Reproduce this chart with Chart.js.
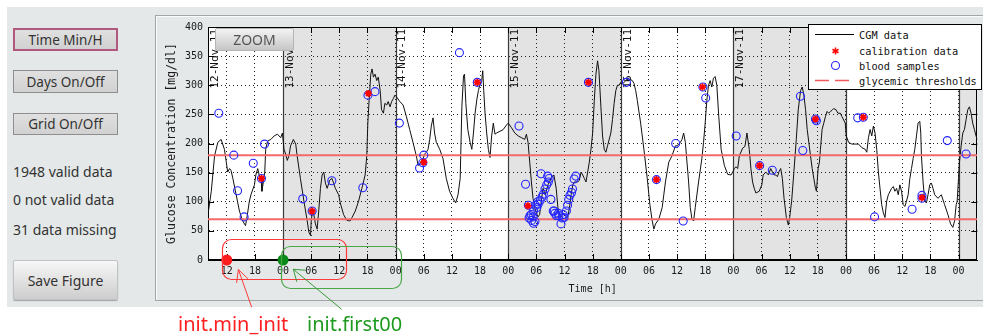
<!DOCTYPE html>
<html lang="en">
<head>
<meta charset="utf-8">
<title>CGM data</title>
<script src="https://cdn.jsdelivr.net/npm/chart.js@4.4.1/dist/chart.umd.min.js"></script>
<style>
  html, body { margin:0; padding:0; width:983px; height:336px; overflow:hidden; background:#fff; }
  body { position:relative; font-family:"Noto Sans", "Open Sans", sans-serif; color:#333; }
  #figure { position:absolute; left:7px; top:7px; width:976px; height:300px; background:#e4e8e8; }
  #panel { position:absolute; left:155px; top:15px; width:840px; height:286px; box-sizing:border-box;
           border-top:1px solid #a2a6a6; border-left:1px solid #a2a6a6; border-bottom:1px solid #a2a6a6;
           box-shadow: inset 1px 1px 0 #fbfbfb; }
  #chart { position:absolute; left:156px; top:16px; }
  .btn { position:absolute; box-sizing:border-box; display:flex; align-items:center; justify-content:center;
         font-size:13.5px; color:#333; white-space:nowrap; }
  .toggle { left:13px; width:105px; height:23px; background:linear-gradient(#e0e0e0,#d1d1d1); border:1px solid #8e8e8e; }
  #btnTime { top:28px; border:2px solid #b0587e; }
  #btnDays { top:70px; }
  #btnGrid { top:113px; height:22px; }
  #btnSave { left:13px; top:260px; width:105px; height:40px; background:linear-gradient(#f7f7f7,#cdcdcd);
             border:1px solid #c2c2c2; border-radius:2px; box-shadow:0 1px 1px rgba(0,0,0,.3); font-size:14px; }
  #btnZoom { left:215px; top:28px; width:79px; height:23px; background:linear-gradient(#f3f3f3,#c6c6c6);
             border:1px solid #b4b4b4; border-radius:2px; color:#555; font-size:14px; }
  .info { position:absolute; left:13px; font-size:14px; color:#333; line-height:18px; white-space:nowrap; }
  svg.overlay { position:absolute; pointer-events:none; }
  .mono { font-family:"DejaVu Sans Mono", monospace; }
</style>
</head>
<body>
<div id="figure"></div>
<div id="panel"></div>
<canvas id="chart" width="827" height="285"></canvas>

<div class="btn toggle" id="btnTime">Time Min/H</div>
<div class="btn toggle" id="btnDays">Days On/Off</div>
<div class="btn toggle" id="btnGrid">Grid On/Off</div>
<div class="info" style="top:163px">1948 valid data</div>
<div class="info" style="top:191px">0 not valid data</div>
<div class="info" style="top:221px">31 data missing</div>
<div class="btn" id="btnSave">Save Figure</div>
<div class="btn" id="btnZoom">ZOOM</div>

<svg class="overlay" id="legend" width="174" height="66" style="left:808px;top:24px">
  <rect x="0.5" y="0.5" width="173" height="65" fill="#fff" stroke="#000"/>
  <line x1="7" y1="10.5" x2="46" y2="10.5" stroke="#000"/>
  <g stroke="#ff0000" stroke-width="1.6">
    <line x1="27.5" y1="23.5" x2="27.5" y2="30.5"/>
    <line x1="24.5" y1="25.3" x2="30.5" y2="28.7"/>
    <line x1="24.5" y1="28.7" x2="30.5" y2="25.3"/>
  </g>
  <circle cx="27.5" cy="41.5" r="4" fill="none" stroke="#2424ff" stroke-width="1.1"/>
  <line x1="7" y1="56.5" x2="46" y2="56.5" stroke="#f05a5a" stroke-width="1.4" stroke-dasharray="14 6"/>
  <g class="mono" font-size="10.3" fill="#111" dominant-baseline="central">
    <text x="51" y="11">CGM data</text>
    <text x="51" y="27">calibration data</text>
    <text x="51" y="42">blood samples</text>
    <text x="51" y="57">glycemic thresholds</text>
  </g>
</svg>

<svg class="overlay" id="notes" width="983" height="336" style="left:0;top:0">
  <rect x="222.5" y="239.5" width="124" height="40" rx="9" fill="none" stroke="#ff3a3a" stroke-width="1.2"/>
  <rect x="281.5" y="246.5" width="120" height="42" rx="9" fill="none" stroke="#4aa84a" stroke-width="1.2"/>
  <path d="M251.7 307.3 L238.4 269.5 M248 278.8 L238.4 269.5 L236.6 282.9" stroke="#ff3a3a" fill="none"/>
  <path d="M341.7 309.3 L293.3 269.3 M306.3 270.3 L293.3 269.3 L296.8 281.8" stroke="#3a9a3a" fill="none"/>
  <text x="178" y="331" fill="#ff2020" font-size="20" font-family="Noto Sans">init.min_init</text>
  <text x="307" y="331" fill="#1e9a1e" font-size="20" font-family="Noto Sans">init.first00</text>
</svg>

<script>
// Time axis: hours relative to 13-Nov-2011 00:00
const hourMin = -16;
const hourMax = 148;
const hourTicks = [-12, -6, 0, 6, 12, 18, 24, 30, 36, 42, 48, 54, 60, 66, 72, 78, 84, 90,
                   96, 102, 108, 114, 120, 126, 132, 138, 144];
const glucoseTicks = [0, 50, 100, 150, 200, 250, 300, 350, 400];
const dayLabels = ['12-Nov-11', '13-Nov-11', '14-Nov-11', '15-Nov-11',
                   '16-Nov-11', '17-Nov-11', '18-Nov-11', '19-Nov-11'];
const dayStarts = [-24, 0, 24, 48, 72, 96, 120, 144];
const thresholds = [70, 180];          // hypo / hyper limits, mg/dl
const initHours = [-12, 0];            // init.min_init, init.first00

// CGM trace: [hour, mg/dl]
const cgmReadings = [
  [-15.9, 84], [-15.3, 118], [-14.6, 179], [-13.9, 202], [-13.2, 207], [-12.5, 190], [-12.1, 168],
  [-11.8, 151], [-11.4, 157], [-11.1, 154], [-10.7, 140], [-10.0, 112], [-9.3, 84], [-8.6, 67],
  [-8.0, 59], [-7.6, 78], [-7.2, 100], [-6.85, 112], [-6.1, 129], [-5.8, 146], [-5.4, 157],
  [-5.1, 146], [-4.7, 140], [-4.5, 118], [-4.2, 134], [-3.9, 151], [-3.7, 190], [-3.3, 204],
  [-2.6, 207], [-1.9, 213], [-1.2, 216], [-0.5, 210], [-0.14, 218], [0.2, 190], [0.56, 182],
  [0.9, 171], [1.27, 179], [1.6, 196], [2.2, 207], [2.7, 199], [3.0, 179], [3.7, 140],
  [4.45, 101], [5.15, 67], [5.5, 48], [5.86, 42], [6.0, 67], [6.28, 84], [6.56, 78],
  [6.9, 62], [7.27, 53], [7.6, 84], [7.97, 123], [8.33, 146], [8.68, 151], [9.03, 132],
  [9.4, 123], [9.95, 137], [10.44, 140], [11.15, 123], [11.86, 112], [12.2, 98], [12.9, 78],
  [13.6, 68], [14.3, 67], [14.7, 73], [15.4, 84], [16.1, 101], [16.8, 123], [17.5, 146],
  [17.85, 179], [18.07, 235], [18.35, 275], [18.7, 319], [18.98, 328], [19.27, 314], [19.62, 319],
  [19.97, 308], [20.3, 314], [20.7, 291], [21.0, 258], [21.4, 252], [21.7, 269], [22.1, 266],
  [22.4, 272], [22.8, 263], [23.15, 272], [23.5, 277], [23.85, 283], [24.2, 280], [24.9, 272],
  [25.6, 266], [26.3, 246], [27.0, 224], [27.7, 202], [28.4, 179], [28.8, 162], [29.15, 165],
  [29.85, 174], [30.2, 182], [30.56, 185], [30.9, 190], [31.26, 207], [31.6, 230], [31.97, 244],
  [32.3, 218], [32.67, 202], [33.4, 190], [34.1, 174], [34.8, 140], [35.5, 118], [36.2, 106],
  [36.8, 98], [37.3, 112], [37.76, 140], [38.12, 263], [38.47, 316], [38.68, 319], [38.97, 269],
  [39.39, 224], [39.88, 202], [40.24, 190], [40.59, 218], [40.94, 252], [41.3, 275], [41.65, 291],
  [42.0, 302], [42.35, 308], [42.57, 325], [42.78, 291], [43.06, 252], [43.41, 218], [43.77, 190],
  [44.12, 176], [44.47, 213], [44.82, 235], [45.18, 216], [45.53, 218], [46.24, 221], [46.94, 224],
  [47.65, 232], [48.0, 235], [48.71, 227], [49.41, 218], [50.12, 213], [50.82, 210], [51.53, 207],
  [51.88, 216], [52.23, 202], [52.59, 168], [52.94, 134], [53.29, 106], [53.65, 90], [54.0, 81],
  [54.35, 74], [54.7, 78], [55.06, 101], [55.41, 123], [55.9, 112], [56.47, 129], [57.17, 140],
  [57.74, 146], [58.23, 123], [58.59, 90], [58.94, 78], [59.43, 74], [60.0, 70], [60.7, 74],
  [61.06, 90], [61.41, 112], [61.76, 129], [62.11, 134], [62.82, 134], [63.17, 137], [63.53, 151],
  [63.88, 146], [64.23, 140], [64.58, 134], [64.94, 151], [65.29, 168], [65.64, 190], [66.0, 218],
  [66.35, 274], [66.7, 319], [67.05, 342], [67.34, 325], [67.76, 263], [68.11, 213], [68.47, 190],
  [68.82, 185], [69.17, 196], [69.88, 218], [70.23, 241], [70.58, 269], [70.94, 291], [71.29, 300],
  [71.64, 300], [72.0, 305], [72.35, 302], [73.05, 308], [73.76, 311], [74.46, 308], [74.82, 303],
  [75.17, 291], [75.52, 274], [76.23, 235], [76.93, 190], [77.64, 140], [78.2, 95], [78.7, 67],
  [79.05, 53], [79.4, 62], [80.11, 70], [80.82, 90], [81.52, 134], [82.23, 168], [82.93, 179],
  [83.64, 196], [83.99, 196], [84.7, 202], [85.05, 207], [85.4, 218], [85.76, 202], [86.11, 168],
  [86.46, 134], [86.81, 90], [87.17, 70], [87.52, 67], [87.87, 90], [88.58, 134], [89.28, 174],
  [89.64, 202], [89.99, 235], [90.34, 274], [90.7, 300], [91.05, 308], [91.4, 297], [91.75, 312],
  [92.11, 315], [92.47, 300], [92.89, 246], [93.39, 190], [94.09, 162], [94.8, 147], [95.51, 146],
  [95.86, 151], [96.21, 157], [96.56, 160], [96.92, 157], [97.27, 179], [97.98, 192], [98.47, 195],
  [98.89, 218], [99.39, 190], [99.74, 157], [100.09, 134], [100.45, 123], [100.8, 115], [101.5, 118],
  [102.07, 129], [102.35, 146], [102.92, 151], [103.48, 146], [103.97, 157], [104.33, 151], [104.68, 146],
  [105.03, 146], [105.39, 143], [105.74, 152], [106.09, 157], [106.44, 140], [106.8, 106], [107.29, 73],
  [107.72, 60], [108.0, 73], [108.42, 101], [108.91, 152], [109.41, 207], [109.83, 258], [110.33, 291],
  [110.68, 297], [111.03, 283], [111.39, 258], [111.74, 224], [112.44, 179], [112.8, 157], [113.15, 140],
  [113.5, 123], [113.71, 118], [114.07, 157], [114.35, 168], [114.56, 190], [114.91, 224], [115.27, 235],
  [115.62, 246], [115.97, 255], [116.32, 252], [116.68, 255], [117.03, 257], [117.38, 260], [117.88, 258],
  [118.3, 252], [118.8, 252], [119.15, 246], [119.85, 235], [120.07, 213], [120.56, 202], [121.26, 199],
  [121.97, 199], [122.68, 199], [123.38, 193], [124.09, 190], [124.44, 185], [124.79, 210], [125.15, 224],
  [125.5, 213], [125.85, 230], [126.2, 218], [126.56, 190], [126.91, 151], [127.26, 123], [127.62, 95],
  [127.97, 81], [128.32, 73], [128.68, 101], [129.03, 112], [129.73, 123], [130.09, 126], [130.44, 118],
  [130.79, 123], [131.14, 112], [131.5, 129], [131.85, 118], [132.2, 95], [132.56, 92], [132.91, 101],
  [133.26, 112], [133.62, 140], [133.97, 157], [134.32, 174], [134.67, 190], [135.03, 213], [135.38, 235],
  [135.74, 238], [135.95, 218], [136.09, 179], [136.44, 134], [136.8, 101], [137.15, 98], [137.5, 112],
  [137.86, 129], [138.21, 132], [138.56, 123], [138.91, 112], [139.62, 106], [140.33, 112], [141.03, 95],
  [141.74, 78], [142.3, 62], [142.79, 56], [143.15, 67], [143.5, 95], [143.71, 101], [143.99, 140],
  [144.2, 168], [144.56, 196], [144.91, 218], [145.26, 224], [145.61, 241], [145.97, 258], [146.32, 263],
  [146.67, 252], [147.02, 235], [147.38, 224], [147.73, 213], [148.0, 207]
];

// Blood glucose samples: [hour, mg/dl]
const bloodSamples = [
  [-13.7, 252], [-10.5, 180], [-9.7, 119], [-8.3, 74], [-6.35, 166], [-4.6, 140], [-3.95, 199],
  [4.2, 105], [6.2, 84], [10.4, 136], [17.0, 124], [18.1, 283], [19.6, 289], [24.8, 235],
  [29.1, 158], [29.8, 167], [30.0, 180], [37.6, 356], [41.4, 305], [50.3, 230],
  [51.7, 130], [52.3, 94], [52.45, 72], [52.65, 76], [52.9, 78], [53.0, 68], [53.3, 74],
  [53.4, 63], [53.4, 84], [53.7, 66], [53.8, 94], [54.1, 90], [54.3, 100], [54.4, 96],
  [54.8, 102], [55.0, 148], [55.2, 108], [55.5, 113], [55.85, 122], [56.2, 129], [56.4, 144],
  [56.55, 134], [56.75, 140], [57.1, 104], [57.6, 84], [57.8, 84], [57.95, 80], [58.3, 76],
  [58.7, 80], [58.8, 76], [59.25, 62], [59.5, 72], [59.7, 78], [59.9, 73], [60.4, 84],
  [60.65, 94], [60.9, 104], [61.15, 111], [61.5, 116], [61.7, 122], [62.05, 139], [62.4, 144],
  [65.1, 305], [73.2, 305], [79.6, 138], [83.7, 200], [85.3, 67], [89.5, 297], [90.1, 278],
  [96.6, 213], [101.6, 162], [104.3, 154], [110.3, 281], [110.8, 188], [113.5, 242], [113.7, 239],
  [122.5, 244], [123.7, 245], [126.1, 74], [134.1, 87], [136.2, 111], [136.2, 106], [141.6, 205],
  [145.6, 182]
];

// Calibration entries: [hour, mg/dl]
const calibrationPoints = [
  [-4.6, 140], [6.2, 84], [18.2, 286], [30.0, 168], [41.4, 305], [52.2, 93], [65.1, 305],
  [79.6, 138], [89.4, 297], [101.6, 162], [113.5, 242], [123.7, 245], [136.2, 107]
];

const mono = 'DejaVu Sans Mono';
const toXY = pairs => pairs.map(([x, y]) => ({ x, y }));
const hourLabel = v => String(((v % 24) + 24) % 24).padStart(2, '0');

// Day shading, day separators, date labels, inward ticks and axes box
const chartFrame = {
  id: 'chartFrame',
  beforeDraw(chart) {
    const { ctx, chartArea: a, scales: { x } } = chart;
    ctx.save();
    ctx.fillStyle = '#ffffff';
    ctx.fillRect(a.left, a.top, a.width, a.height);
    ctx.fillStyle = '#e3e3e3';
    dayStarts.forEach((h, i) => {
      if (i % 2 === 0) return;
      const x0 = Math.max(a.left, x.getPixelForValue(h));
      const x1 = Math.min(a.right, x.getPixelForValue(h + 24));
      if (x1 > x0) ctx.fillRect(x0, a.top, x1 - x0, a.height);
    });
    ctx.restore();
  },
  beforeDatasetsDraw(chart) {
    const { ctx, chartArea: a, scales: { x, y } } = chart;
    ctx.save();
    ctx.strokeStyle = '#3a3a3a';
    ctx.lineWidth = 1.2;
    dayStarts.forEach(h => {
      const px = x.getPixelForValue(h);
      if (px <= a.left || px >= a.right) return;
      const sx = Math.round(px) + 0.5;
      ctx.beginPath();
      ctx.moveTo(sx, a.top);
      ctx.lineTo(sx, a.bottom);
      ctx.stroke();
    });

    ctx.fillStyle = '#111';
    ctx.font = '11px "' + mono + '"';
    ctx.textAlign = 'right';
    ctx.textBaseline = 'middle';
    dayLabels.forEach((label, i) => {
      const px = Math.max(a.left, x.getPixelForValue(dayStarts[i])) + 7;
      if (px > a.right) return;
      ctx.save();
      ctx.translate(px, a.top + 2);
      ctx.rotate(-Math.PI / 2);
      ctx.fillText(label, 0, 0);
      ctx.restore();
    });

    ctx.strokeStyle = '#000';
    ctx.lineWidth = 1;
    ctx.beginPath();
    hourTicks.forEach(h => {
      const px = Math.round(x.getPixelForValue(h)) + 0.5;
      ctx.moveTo(px, a.bottom); ctx.lineTo(px, a.bottom - 6);
      ctx.moveTo(px, a.top); ctx.lineTo(px, a.top + 6);
    });
    glucoseTicks.forEach(v => {
      const py = Math.round(y.getPixelForValue(v)) + 0.5;
      ctx.moveTo(a.left, py); ctx.lineTo(a.left + 6, py);
      ctx.moveTo(a.right, py); ctx.lineTo(a.right - 6, py);
    });
    ctx.stroke();
    ctx.strokeRect(Math.round(a.left) + 0.5, Math.round(a.top) + 0.5,
                   Math.round(a.width) - 1, Math.round(a.height) - 1);
    ctx.restore();
  }
};

const gridStyle = { color: '#222', lineWidth: 1, drawTicks: false };
const borderStyle = { display: true, color: '#000', width: 1, dash: [1, 3] };

new Chart(document.getElementById('chart'), {
  type: 'line',
  data: {
    datasets: [
      {
        label: 'init',
        data: initHours.map(h => ({ x: h, y: 0 })),
        showLine: false,
        pointRadius: 5.5,
        pointBackgroundColor: ['#ff1c1c', '#0a8a16'],
        pointBorderWidth: 0,
        clip: false,
        order: -1
      },
      {
        label: 'calibration data',
        data: toXY(calibrationPoints),
        showLine: false,
        pointStyle: 'star',
        pointRadius: 3.5,
        pointBorderColor: '#ff0000',
        pointBackgroundColor: '#ff0000',
        pointBorderWidth: 1.7,
        order: 0
      },
      {
        label: 'blood samples',
        data: toXY(bloodSamples),
        showLine: false,
        pointStyle: 'circle',
        pointRadius: 4,
        pointBorderColor: '#2424ff',
        pointBackgroundColor: 'rgba(0,0,0,0)',
        pointBorderWidth: 1.1,
        order: 1
      },
      ...thresholds.map(t => ({
        label: 'glycemic thresholds',
        data: [{ x: hourMin, y: t }, { x: hourMax, y: t }],
        borderColor: '#f26a6a',
        borderWidth: 2,
        pointRadius: 0,
        order: 2
      })),
      {
        label: 'CGM data',
        data: toXY(cgmReadings),
        borderColor: '#111',
        borderWidth: 1,
        pointRadius: 0,
        order: 3
      }
    ]
  },
  options: {
    responsive: false,
    animation: false,
    events: [],
    layout: { padding: { left: 0, top: 6, right: 2, bottom: 0 } },
    plugins: { legend: { display: false }, tooltip: { enabled: false } },
    scales: {
      x: {
        type: 'linear',
        min: hourMin,
        max: hourMax,
        afterBuildTicks: s => { s.ticks = hourTicks.map(value => ({ value })); },
        afterFit: s => { s.height = 41; },
        ticks: { callback: hourLabel, font: { family: mono, size: 10 }, color: '#1a1a1a',
                 padding: 5, maxRotation: 0, autoSkip: false },
        grid: gridStyle,
        border: borderStyle,
        title: { display: true, text: 'Time [h]', font: { family: mono, size: 10 }, color: '#1a1a1a',
                 padding: { top: 0, bottom: 6 } }
      },
      y: {
        min: 0,
        max: 400,
        afterBuildTicks: s => { s.ticks = glucoseTicks.map(value => ({ value })); },
        afterFit: s => { s.width = 52; },
        ticks: { font: { family: mono, size: 10 }, color: '#1a1a1a', padding: 5 },
        grid: gridStyle,
        border: borderStyle,
        title: { display: true, text: 'Glucose Concentration [mg/dl]', font: { family: mono, size: 11.5 },
                 color: '#1a1a1a', padding: { top: 9, bottom: 0 } }
      }
    }
  },
  plugins: [chartFrame]
});
</script>
</body>
</html>
